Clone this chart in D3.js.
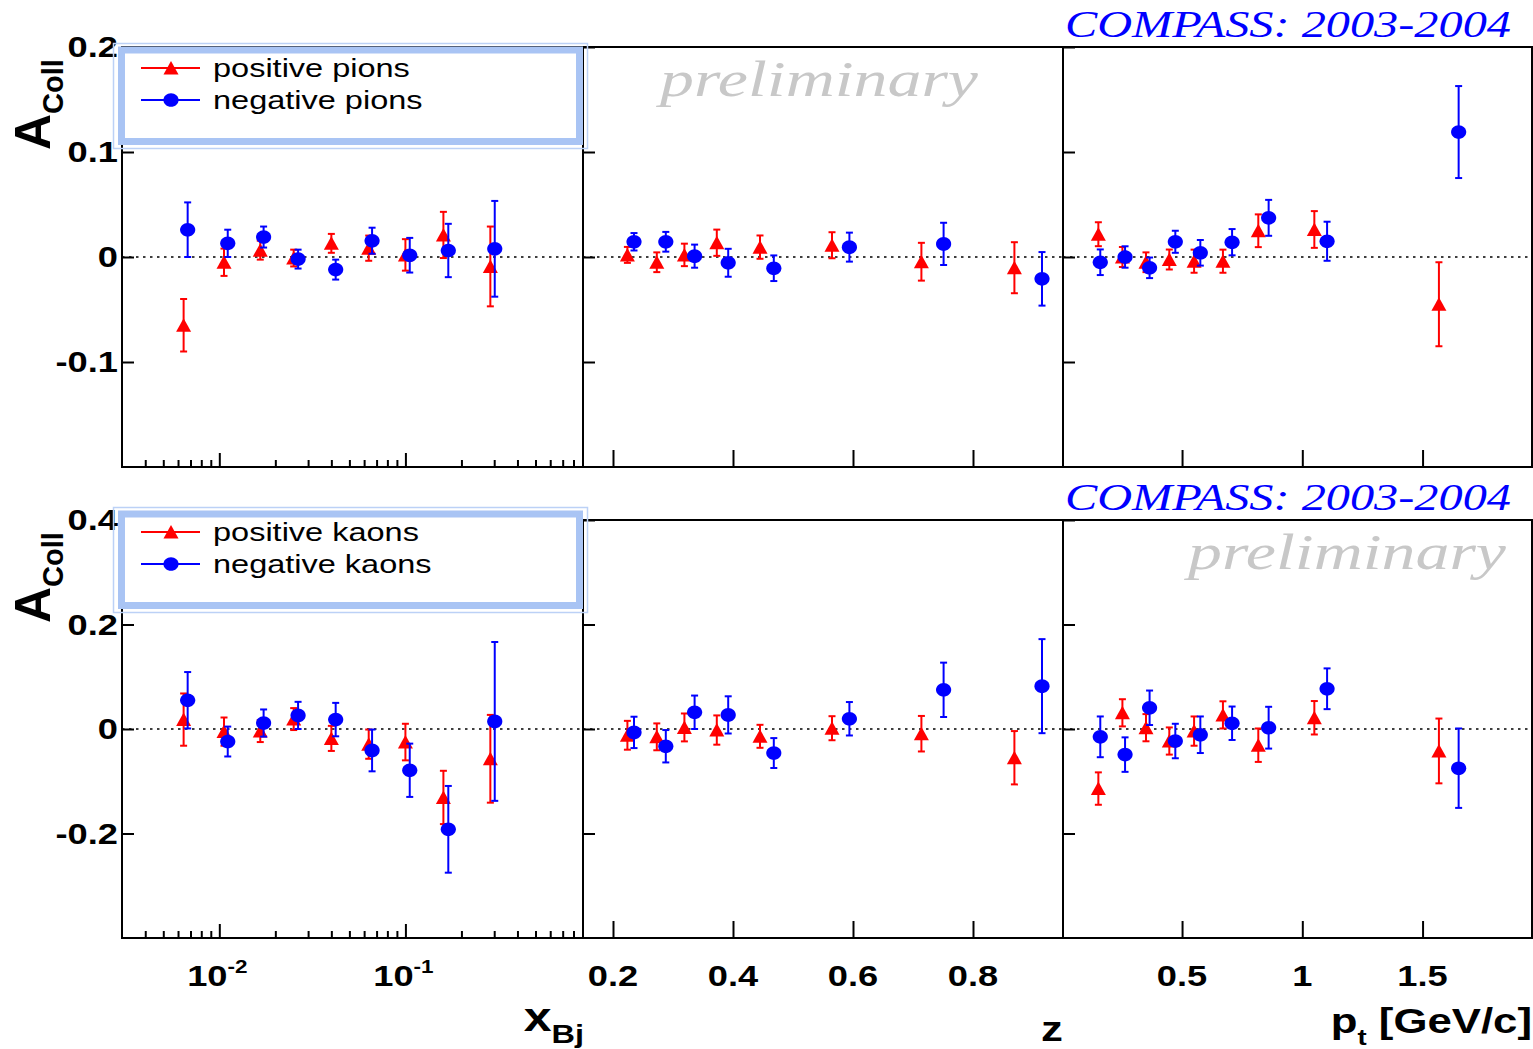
<!DOCTYPE html>
<html>
<head>
<meta charset="utf-8">
<script src="https://cdn.jsdelivr.net/npm/d3@7"></script>
<style>
  body { margin: 0; background: #fff; }
  svg { display: block; }
</style>
</head>
<body>
<svg id="chart"></svg>
<script>
// bin centres, positive hadrons sit a little left of the negative ones
const xbjPos = [0.00643, 0.0106, 0.0166, 0.0251, 0.040, 0.0635, 0.100, 0.160, 0.286];
const xbjNeg = [0.00676, 0.0111, 0.0173, 0.0265, 0.0422, 0.0662, 0.1055, 0.170, 0.302];
const zPos = [0.224, 0.273, 0.319, 0.373, 0.445, 0.565, 0.714, 0.869];
const zNeg = [0.235, 0.288, 0.336, 0.392, 0.468, 0.594, 0.751, 0.915];
const ptPos = [0.152, 0.252, 0.35, 0.447, 0.55, 0.67, 0.817, 1.05, 1.568];
const ptNeg = [0.16, 0.263, 0.365, 0.472, 0.576, 0.708, 0.86, 1.103, 1.65];

// pions
const pipXbj = [-0.065, -0.005, 0.0065, -0.001, 0.013, 0.0084, 0.002, 0.021, -0.009];
const pipXbjErr = [0.025, 0.013, 0.009, 0.008, 0.009, 0.012, 0.015, 0.022, 0.038];
const pimXbj = [0.026, 0.013, 0.019, -0.002, -0.012, 0.0155, 0.0017, 0.0062, 0.0078];
const pimXbjErr = [0.026, 0.013, 0.010, 0.009, 0.0095, 0.0124, 0.0165, 0.0254, 0.0456];
const pipZ = [0.002, -0.005, 0.002, 0.0136, 0.0094, 0.0112, -0.0045, -0.0102];
const pipZErr = [0.0076, 0.0094, 0.0107, 0.0125, 0.0111, 0.0124, 0.018, 0.0243];
const pimZ = [0.0145, 0.0145, 0.0008, -0.0055, -0.0107, 0.0094, 0.0125, -0.0208];
const pimZErr = [0.0083, 0.0094, 0.011, 0.0133, 0.0122, 0.0138, 0.0201, 0.0255];
const pipPt = [0.0217, 0.0, -0.005, -0.0024, -0.004, -0.004, 0.025, 0.0262, -0.045];
const pipPtErr = [0.0114, 0.0095, 0.0094, 0.0095, 0.011, 0.011, 0.0156, 0.0175, 0.04];
const pimPt = [-0.005, 0.0, -0.0103, 0.0145, 0.004, 0.0141, 0.0373, 0.015, 0.119];
const pimPtErr = [0.0122, 0.0102, 0.0098, 0.0105, 0.0122, 0.0125, 0.0171, 0.0186, 0.0438];

// kaons
const kpXbj = [0.018, -0.005, -0.004, 0.019, -0.018, -0.029, -0.025, -0.131, -0.057];
const kpXbjErr = [0.05, 0.027, 0.021, 0.021, 0.024, 0.028, 0.035, 0.051, 0.084];
const kmXbj = [0.055, -0.024, 0.0114, 0.026, 0.018, -0.041, -0.079, -0.192, 0.0145];
const kmXbjErr = [0.054, 0.0286, 0.026, 0.026, 0.032, 0.04, 0.051, 0.083, 0.152];
const kpZ = [-0.012, -0.015, 0.003, -0.002, -0.014, 0.0015, -0.009, -0.055];
const kpZErr = [0.0276, 0.0257, 0.0267, 0.028, 0.022, 0.023, 0.034, 0.051];
const kmZ = [-0.0065, -0.033, 0.032, 0.027, -0.046, 0.0196, 0.075, 0.082];
const kmZErr = [0.03, 0.031, 0.032, 0.0356, 0.0286, 0.032, 0.052, 0.09];
const kpPt = [-0.114, 0.031, 0.0025, -0.023, -0.004, 0.027, -0.031, 0.0215, -0.042];
const kpPtErr = [0.031, 0.026, 0.026, 0.026, 0.028, 0.026, 0.032, 0.032, 0.062];
const kmPt = [-0.015, -0.049, 0.0406, -0.023, -0.011, 0.011, 0.0025, 0.077, -0.075];
const kmPtErr = [0.039, 0.033, 0.033, 0.033, 0.035, 0.032, 0.04, 0.039, 0.076];

const yTicksPions = [-0.1, 0, 0.1, 0.2];
const yTicksKaons = [-0.2, 0, 0.2, 0.4];
const zTicks = [0.2, 0.4, 0.6, 0.8];
const ptTicks = [0.5, 1, 1.5];
const legendPions = ['positive pions', 'negative pions'];
const legendKaons = ['positive kaons', 'negative kaons'];

const W = 1533, H = 1049;
const SX = 1.25; // the original canvas was stretched sideways
const RED = '#ff0000', BLUE = '#0000ff';
const SANS = '"Liberation Sans", Arial, Helvetica, sans-serif';
const SERIF = '"Liberation Serif", "Times New Roman", serif';

const svg = d3.select('#chart').attr('width', W).attr('height', H);

const cols = [
  { x0: 122, x1: 583, scale: d3.scaleLog().domain([0.003, 0.9]), pos: xbjPos, neg: xbjNeg, key: 'xbj' },
  { x0: 583, x1: 1063, scale: d3.scaleLinear().domain([0.15, 0.95]), pos: zPos, neg: zNeg, key: 'z' },
  { x0: 1063, x1: 1532, scale: d3.scaleLinear().domain([0.005, 1.955]), pos: ptPos, neg: ptNeg, key: 'pt' }
];
cols.forEach((c) => c.scale.range([c.x0, c.x1]));

const rows = [
  {
    y0: 47, y1: 467, dom: [-0.2, 0.2], ticks: yTicksPions, legend: legendPions, legendTop: 43,
    data: {
      xbj: [pipXbj, pipXbjErr, pimXbj, pimXbjErr],
      z: [pipZ, pipZErr, pimZ, pimZErr],
      pt: [pipPt, pipPtErr, pimPt, pimPtErr]
    }
  },
  {
    y0: 520, y1: 938, dom: [-0.4, 0.4], ticks: yTicksKaons, legend: legendKaons, legendTop: 507,
    data: {
      xbj: [kpXbj, kpXbjErr, kmXbj, kmXbjErr],
      z: [kpZ, kpZErr, kmZ, kmZErr],
      pt: [kpPt, kpPtErr, kmPt, kmPtErr]
    }
  }
];

// ROOT style markers, a bit wider than tall
const triangle = {
  draw(ctx) {
    ctx.moveTo(0, -7);
    ctx.lineTo(7.5, 6.5);
    ctx.lineTo(-7.5, 6.5);
    ctx.closePath();
  }
};
const blob = {
  draw(ctx) {
    const k = 0.5523;
    const rx = 7.6, ry = 6.8;
    ctx.moveTo(rx, 0);
    ctx.bezierCurveTo(rx, ry * k, rx * k, ry, 0, ry);
    ctx.bezierCurveTo(-rx * k, ry, -rx, ry * k, -rx, 0);
    ctx.bezierCurveTo(-rx, -ry * k, -rx * k, -ry, 0, -ry);
    ctx.bezierCurveTo(rx * k, -ry, rx, -ry * k, rx, 0);
    ctx.closePath();
  }
};

function stretched(g, x, y, size, weight, anchor) {
  return g.append('text')
    .attr('transform', `translate(${x},${y}) scale(${SX},1)`)
    .attr('font-family', SANS)
    .attr('font-size', size)
    .attr('font-weight', weight)
    .attr('text-anchor', anchor);
}

function drawSeries(g, xs, vals, errs, x, y, color, shape) {
  const pts = xs.map((d, i) => ({ x: d, v: vals[i], e: errs[i] }));
  const s = g.append('g').attr('stroke', color).attr('fill', color);
  s.selectAll('line.bar').data(pts).enter().append('line')
    .attr('x1', (d) => x(d.x)).attr('x2', (d) => x(d.x))
    .attr('y1', (d) => y(d.v - d.e)).attr('y2', (d) => y(d.v + d.e))
    .attr('stroke-width', 2);
  [-1, 1].forEach((sgn) => {
    s.selectAll(null).data(pts).enter().append('line')
      .attr('x1', (d) => x(d.x) - 3.5).attr('x2', (d) => x(d.x) + 3.5)
      .attr('y1', (d) => y(d.v + sgn * d.e)).attr('y2', (d) => y(d.v + sgn * d.e))
      .attr('stroke-width', 2);
  });
  s.selectAll('path').data(pts).enter().append('path')
    .attr('transform', (d) => `translate(${x(d.x)},${y(d.v)})`)
    .attr('d', d3.symbol(shape))
    .attr('stroke', 'none');
}

rows.forEach((row, ri) => {
  const y = d3.scaleLinear().domain(row.dom).range([row.y1, row.y0]);
  cols.forEach((c) => {
    const g = svg.append('g');
    const x = c.scale;

    // dotted zero line
    g.append('line')
      .attr('x1', c.x0).attr('x2', c.x1)
      .attr('y1', y(0)).attr('y2', y(0))
      .attr('stroke', '#000').attr('stroke-width', 1.6)
      .attr('stroke-dasharray', '2.5,4.5');

    // y ticks, pointing in
    g.append('g')
      .attr('transform', `translate(${c.x0},0)`)
      .call(d3.axisLeft(y).tickValues(row.ticks).tickSize(-12).tickFormat(''))
      .call((a) => a.select('.domain').remove())
      .call((a) => a.selectAll('line').attr('stroke-width', 2));

    // x ticks
    if (c.key === 'xbj') {
      const majors = [0.01, 0.1];
      const minors = [];
      [0.001, 0.01, 0.1].forEach((dec) => {
        for (let m = 2; m <= 9; m++) {
          const v = m * dec;
          if (v > 0.003 && v < 0.89) minors.push(v);
        }
      });
      g.append('g').attr('transform', `translate(0,${row.y1})`)
        .call(d3.axisBottom(x).tickValues(minors).tickSize(-7).tickFormat(''))
        .call((a) => a.select('.domain').remove())
        .call((a) => a.selectAll('line').attr('stroke-width', 2));
      g.append('g').attr('transform', `translate(0,${row.y1})`)
        .call(d3.axisBottom(x).tickValues(majors).tickSize(-14).tickFormat(''))
        .call((a) => a.select('.domain').remove())
        .call((a) => a.selectAll('line').attr('stroke-width', 2));
    } else {
      g.append('g').attr('transform', `translate(0,${row.y1})`)
        .call(d3.axisBottom(x).tickValues(c.key === 'z' ? zTicks : ptTicks).tickSize(-17).tickFormat(''))
        .call((a) => a.select('.domain').remove())
        .call((a) => a.selectAll('line').attr('stroke-width', 2));
    }

    // frame
    g.append('rect')
      .attr('x', c.x0).attr('y', row.y0)
      .attr('width', c.x1 - c.x0).attr('height', row.y1 - row.y0)
      .attr('fill', 'none').attr('stroke', '#000').attr('stroke-width', 2);

    const [pv, pe, nv, ne] = row.data[c.key];
    drawSeries(g, c.pos, pv, pe, x, y, RED, triangle);
    drawSeries(g, c.neg, nv, ne, x, y, BLUE, blob);

    // x tick labels only under the lower row
    if (ri === 1) {
      if (c.key === 'xbj') {
        [0.01, 0.1].forEach((v) => {
          const t = stretched(svg, x(v) - 2, 986, 29, 'bold', 'middle');
          t.append('tspan').text('10');
          t.append('tspan').attr('font-size', 18).attr('dy', -13).text(`-${Math.round(-Math.log10(v))}`);
        });
      } else {
        (c.key === 'z' ? zTicks : ptTicks).forEach((v) => {
          stretched(svg, x(v), 986, 29, 'bold', 'middle').text(String(v));
        });
      }
    }
  });

  // y tick labels
  row.ticks.forEach((v) => {
    stretched(svg, 118, y(v), 29, 'bold', 'end')
      .attr('dy', '0.36em')
      .text(v === 0 ? '0' : String(v));
  });

  // y title
  const yt = svg.append('text')
    .attr('transform', `translate(50,${row.y0 + 103}) rotate(-90)`)
    .attr('font-family', SANS).attr('font-weight', 'bold');
  yt.append('tspan').attr('font-size', 50).text('A');
  yt.append('tspan').attr('font-size', 29).attr('dy', 13).text('Coll');

  // legend
  const lt = row.legendTop;
  const lg = svg.append('g');
  lg.append('rect')
    .attr('x', 113.5).attr('y', lt + 0.5).attr('width', 474).attr('height', 105)
    .attr('fill', 'none').attr('stroke', '#bcd1f6').attr('stroke-width', 1.5);
  lg.append('rect')
    .attr('x', 121.5).attr('y', lt + 7).attr('width', 458).attr('height', 91.5)
    .attr('fill', '#fff').attr('stroke', '#a9c4f4').attr('stroke-width', 7);
  [[RED, triangle, 25], [BLUE, blob, 57]].forEach(([col, shape, dy], i) => {
    lg.append('line')
      .attr('x1', 141).attr('x2', 200).attr('y1', lt + dy).attr('y2', lt + dy)
      .attr('stroke', col).attr('stroke-width', 2);
    lg.append('path')
      .attr('transform', `translate(171,${lt + dy})`)
      .attr('d', d3.symbol(shape)).attr('fill', col);
    stretched(lg, 213, lt + dy + 8.5, 26, 'normal', 'start').text(row.legend[i]);
  });

  // experiment tag
  svg.append('text')
    .attr('x', 1511).attr('y', row.y0 - 10)
    .attr('text-anchor', 'end')
    .attr('font-family', SERIF).attr('font-style', 'italic')
    .attr('font-size', 37).attr('fill', BLUE)
    .attr('textLength', 446).attr('lengthAdjust', 'spacingAndGlyphs')
    .text('COMPASS: 2003-2004');
});

// watermarks
[[660, 96], [1188, 569]].forEach(([px, py]) => {
  svg.append('text')
    .attr('x', px).attr('y', py)
    .attr('font-family', SERIF).attr('font-style', 'italic')
    .attr('font-size', 50).attr('fill', '#c8c8c8')
    .attr('textLength', 318).attr('lengthAdjust', 'spacingAndGlyphs')
    .text('preliminary');
});

// axis titles
const tx = stretched(svg, 584, 1031, 40, 'bold', 'end');
tx.append('tspan').text('x');
tx.append('tspan').attr('font-size', 26).attr('dy', 12).text('Bj');

stretched(svg, 1063, 1041, 35, 'bold', 'end').text('z');

const tp = stretched(svg, 1532, 1033, 35, 'bold', 'end');
tp.append('tspan').text('p');
tp.append('tspan').attr('font-size', 22).attr('dy', 12).text('t');
tp.append('tspan').attr('dy', -12).text(' [GeV/c]');
</script>
</body>
</html>
